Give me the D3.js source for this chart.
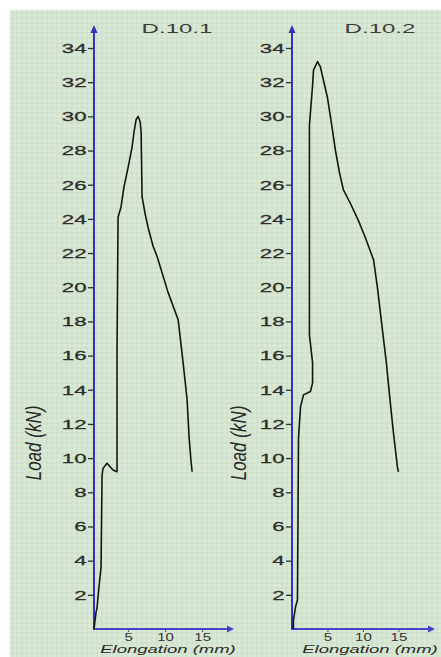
<!DOCTYPE html>
<html>
<head>
<meta charset="utf-8">
<script src="https://cdn.jsdelivr.net/npm/d3@7"></script>
<style>
  body { margin: 0; background: #fff; }
  svg { display: block; }
  text { font-family: "Liberation Sans", Arial, sans-serif; }
</style>
</head>
<body>
<script>
// specimen names
var titles = ["D.10.1", "D.10.2"];

// tick values
var loadTicks = [2, 4, 6, 8, 10, 12, 14, 16, 18, 20, 22, 24, 26, 28, 30, 32, 34];
var elongTicks = [5, 10, 15];

// D.10.1 : elongation (mm) / load (kN)
var elong1 = [0.4, 0.68, 0.8, 1.08, 1.35, 1.49, 1.62, 2.16, 2.57, 2.97, 3.51, 3.51, 3.65, 4.05, 4.46, 5.0, 5.54, 5.81, 6.08, 6.35, 6.62, 6.76, 6.89, 7.3, 7.7, 8.38, 8.92, 10.4, 11.76, 12.4, 12.97, 13.24, 13.5, 13.65];
var load1  = [0, 1.0, 1.2, 2.5, 3.6, 9.0, 9.4, 9.7, 9.5, 9.3, 9.2, 16.4, 24.1, 24.7, 25.9, 27.0, 28.2, 29.1, 29.8, 30.0, 29.7, 29.1, 25.3, 24.3, 23.5, 22.4, 21.8, 19.7, 18.1, 15.7, 13.4, 11.2, 9.8, 9.2];

// D.10.2
var elong2 = [0.2, 0.2, 0.5, 0.77, 0.92, 1.2, 1.62, 2.6, 2.9, 2.9, 2.46, 2.46, 2.9, 3.03, 3.6, 4.0, 4.44, 5.0, 5.56, 6.13, 6.7, 7.25, 8.24, 9.37, 10.35, 11.5, 12.04, 12.75, 13.3, 13.87, 14.3, 14.86, 15.0];
var load2  = [0, 0.5, 1.3, 1.7, 11.2, 13.0, 13.7, 13.9, 14.4, 15.6, 17.2, 29.5, 31.8, 32.7, 33.2, 32.9, 32.1, 31.1, 29.6, 28.0, 26.7, 25.7, 24.9, 23.9, 22.9, 21.6, 20.0, 17.5, 15.6, 13.2, 11.5, 9.5, 9.2];

var width = 441, height = 657;

var svg = d3.select("body").append("svg")
    .attr("width", width)
    .attr("height", height);

// graph-paper background
var bg = svg.append("g");
bg.append("rect")
    .attr("x", 10).attr("y", 10)
    .attr("width", width - 10).attr("height", height - 10)
    .attr("fill", "#d9e9d5");
bg.selectAll("line.v")
    .data(d3.range(12, width, 5))
    .enter().append("line")
    .attr("x1", function(d) { return d; }).attr("x2", function(d) { return d; })
    .attr("y1", 10).attr("y2", height)
    .attr("stroke", "#c3d7c0").attr("stroke-width", 1).attr("opacity", 0.6);
bg.selectAll("line.h")
    .data(d3.range(13, height, 5))
    .enter().append("line")
    .attr("y1", function(d) { return d; }).attr("y2", function(d) { return d; })
    .attr("x1", 10).attr("x2", width)
    .attr("stroke", "#c6d9c3").attr("stroke-width", 1).attr("opacity", 0.5);

var y = d3.scaleLinear().domain([0, 34]).range([629, 48]);

var panels = [
    { title: titles[0], xs: elong1, ys: load1, x0: 94, domain: [0.4, 19.3], range: [94, 234], arrowEnd: 234, labelX: 33, titleX: 177, xlabX: 168 },
    { title: titles[1], xs: elong2, ys: load2, x0: 292, domain: [0, 19.6], range: [292, 431], arrowEnd: 435, labelX: 238, titleX: 380, xlabX: 370 }
];

var axisBlue = "#3434b8";

panels.forEach(function(p) {
    var x = d3.scaleLinear().domain(p.domain).range(p.range);
    var g = svg.append("g");

    // Y axis ticks and labels
    var ya = g.append("g")
        .attr("transform", "translate(" + p.x0 + ",0)")
        .call(d3.axisLeft(y).tickValues(loadTicks).tickSize(6).tickPadding(2));
    ya.select(".domain").remove();
    ya.selectAll(".tick line").attr("stroke", "#333").attr("stroke-width", 1.3);
    ya.selectAll(".tick text")
        .attr("font-size", 13.5)
        .attr("fill", "#2e2e2e")
        .attr("stroke", "#2e2e2e").attr("stroke-width", 0.3)
        .attr("x", -4.5)
        .attr("transform", "scale(1.65,1)");

    // X axis ticks and labels
    var xa = g.append("g")
        .attr("transform", "translate(0,629)")
        .call(d3.axisBottom(x).tickValues(elongTicks).tickSize(3).tickPadding(2));
    xa.select(".domain").remove();
    xa.selectAll(".tick line").attr("stroke", "#555");
    xa.selectAll(".tick text")
        .attr("font-size", 10)
        .attr("fill", "#333")
        .attr("transform", "scale(1.5,1)");

    // axis lines with arrows
    g.append("line")
        .attr("x1", p.x0).attr("x2", p.x0)
        .attr("y1", 630).attr("y2", 30)
        .attr("stroke", axisBlue).attr("stroke-width", 2);
    g.append("path")
        .attr("d", "M" + (p.x0 - 3.5) + ",33L" + p.x0 + ",25L" + (p.x0 + 3.5) + ",33Z")
        .attr("fill", axisBlue);
    g.append("line")
        .attr("x1", p.x0).attr("x2", p.arrowEnd - 5)
        .attr("y1", 629).attr("y2", 629)
        .attr("stroke", "#4545cc").attr("stroke-width", 2);
    g.append("path")
        .attr("d", "M" + (p.arrowEnd - 7) + "," + 625.5 + "L" + p.arrowEnd + ",629L" + (p.arrowEnd - 7) + ",632.5Z")
        .attr("fill", "#4545cc");

    // load-elongation curve
    var line = d3.line()
        .x(function(d) { return x(d[0]); })
        .y(function(d) { return y(d[1]); });
    g.append("path")
        .datum(d3.zip(p.xs, p.ys))
        .attr("fill", "none")
        .attr("stroke", "#151515")
        .attr("stroke-width", 1.6)
        .attr("stroke-linejoin", "round")
        .attr("d", line);

    // title
    g.append("text")
        .attr("transform", "translate(" + p.titleX + ",33) scale(1.85,1)")
        .attr("text-anchor", "middle")
        .attr("font-size", 13)
        .attr("fill", "#3c3c3c")
        .text(p.title);

    // axis titles
    g.append("text")
        .attr("transform", "translate(" + p.labelX + ",443) scale(1.35,1) rotate(-90)")
        .attr("text-anchor", "middle")
        .attr("dy", "0.35em")
        .attr("font-size", 17)
        .attr("font-style", "italic")
        .attr("fill", "#2a2a2a")
        .text("Load (kN)");
    g.append("text")
        .attr("transform", "translate(" + p.xlabX + ",653) scale(1.68,1)")
        .attr("text-anchor", "middle")
        .attr("font-size", 11)
        .attr("font-style", "italic")
        .attr("fill", "#2a2a2a")
        .text("Elongation (mm)");
});
</script>
</body>
</html>
